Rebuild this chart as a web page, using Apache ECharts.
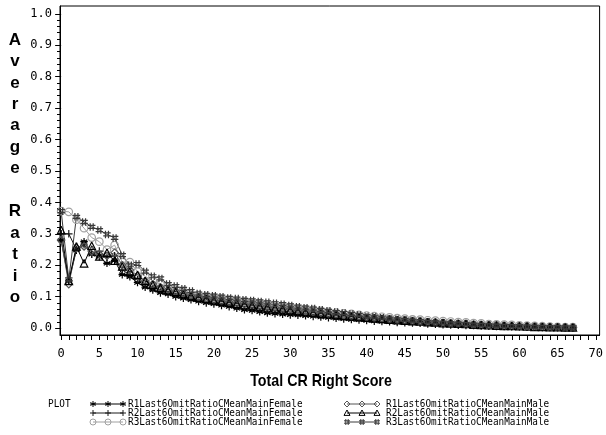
<!DOCTYPE html>
<html>
<head>
<meta charset="utf-8">
<script src="https://cdn.jsdelivr.net/npm/echarts@6/dist/echarts.min.js"></script>
<style>
  html, body { margin: 0; padding: 0; background: #fff; }
  #chart { width: 606px; height: 435px; }
</style>
</head>
<body>
<div id="chart"></div>
<script>
// Total CR Right Score (x) for every plotted point
const scores = [
  0, 1, 2, 3, 4, 5, 6, 7, 8, 9,
  10, 11, 12, 13, 14, 15, 16, 17, 18, 19,
  20, 21, 22, 23, 24, 25, 26, 27, 28, 29,
  30, 31, 32, 33, 34, 35, 36, 37, 38, 39,
  40, 41, 42, 43, 44, 45, 46, 47, 48, 49,
  50, 51, 52, 53, 54, 55, 56, 57, 58, 59,
  60, 61, 62, 63, 64, 65, 66, 67
];

const r1Female = [
  0.280, 0.150, 0.248, 0.275, 0.235, 0.227, 0.206, 0.215, 0.170, 0.163,
  0.145, 0.130, 0.121, 0.112, 0.108, 0.100, 0.095, 0.090, 0.085, 0.080,
  0.077, 0.072, 0.068, 0.063, 0.058, 0.056, 0.052, 0.048, 0.046, 0.044,
  0.042, 0.041, 0.039, 0.037, 0.035, 0.033, 0.031, 0.029, 0.027, 0.026,
  0.024, 0.022, 0.021, 0.020, 0.018, 0.017, 0.016, 0.015, 0.013, 0.012,
  0.011, 0.010, 0.009, 0.008, 0.008, 0.007, 0.006, 0.005, 0.005, 0.004,
  0.004, 0.003, 0.003, 0.002, 0.002, 0.002, 0.001, 0.001
];
const r2Female = [
  0.300, 0.300, 0.250, 0.265, 0.235, 0.245, 0.225, 0.230, 0.185, 0.170,
  0.155, 0.140, 0.130, 0.121, 0.115, 0.108, 0.102, 0.097, 0.092, 0.087,
  0.083, 0.079, 0.076, 0.072, 0.069, 0.066, 0.063, 0.060, 0.057, 0.054,
  0.052, 0.049, 0.047, 0.044, 0.042, 0.040, 0.038, 0.036, 0.034, 0.032,
  0.030, 0.028, 0.027, 0.025, 0.023, 0.022, 0.021, 0.019, 0.018, 0.017,
  0.015, 0.014, 0.013, 0.012, 0.011, 0.010, 0.009, 0.008, 0.007, 0.006,
  0.006, 0.005, 0.004, 0.004, 0.003, 0.003, 0.002, 0.002
];
const r3Female = [
  0.372, 0.370, 0.345, 0.318, 0.288, 0.275, 0.250, 0.264, 0.210, 0.210,
  0.180, 0.165, 0.150, 0.140, 0.131, 0.125, 0.118, 0.110, 0.105, 0.100,
  0.097, 0.093, 0.090, 0.087, 0.084, 0.081, 0.078, 0.075, 0.072, 0.069,
  0.066, 0.063, 0.060, 0.058, 0.055, 0.052, 0.049, 0.047, 0.045, 0.042,
  0.040, 0.038, 0.036, 0.034, 0.032, 0.030, 0.028, 0.027, 0.025, 0.024,
  0.022, 0.021, 0.019, 0.018, 0.016, 0.015, 0.013, 0.012, 0.011, 0.010,
  0.009, 0.008, 0.007, 0.006, 0.005, 0.004, 0.003, 0.003
];
const r1Male = [
  0.280, 0.140, 0.255, 0.260, 0.245, 0.235, 0.230, 0.240, 0.200, 0.185,
  0.165, 0.150, 0.140, 0.130, 0.122, 0.116, 0.110, 0.104, 0.098, 0.094,
  0.090, 0.086, 0.083, 0.080, 0.077, 0.074, 0.071, 0.068, 0.065, 0.062,
  0.059, 0.056, 0.053, 0.050, 0.048, 0.045, 0.043, 0.040, 0.038, 0.036,
  0.034, 0.032, 0.030, 0.028, 0.026, 0.025, 0.023, 0.022, 0.020, 0.019,
  0.017, 0.016, 0.015, 0.014, 0.012, 0.011, 0.010, 0.009, 0.008, 0.007,
  0.006, 0.006, 0.005, 0.004, 0.004, 0.003, 0.003, 0.002
];
const r2Male = [
  0.312, 0.150, 0.260, 0.206, 0.262, 0.228, 0.240, 0.215, 0.196, 0.180,
  0.170, 0.150, 0.138, 0.128, 0.120, 0.115, 0.108, 0.102, 0.097, 0.093,
  0.088, 0.085, 0.081, 0.078, 0.075, 0.072, 0.069, 0.066, 0.063, 0.060,
  0.057, 0.054, 0.051, 0.049, 0.046, 0.044, 0.041, 0.039, 0.037, 0.035,
  0.033, 0.031, 0.029, 0.027, 0.025, 0.024, 0.022, 0.021, 0.019, 0.018,
  0.016, 0.015, 0.014, 0.013, 0.011, 0.010, 0.009, 0.008, 0.007, 0.007,
  0.006, 0.005, 0.004, 0.004, 0.003, 0.003, 0.002, 0.002
];
const r3Male = [
  0.372, 0.155, 0.354, 0.338, 0.322, 0.312, 0.298, 0.287, 0.232, 0.200,
  0.204, 0.180, 0.165, 0.158, 0.140, 0.134, 0.125, 0.118, 0.110, 0.106,
  0.103, 0.100, 0.096, 0.094, 0.090, 0.088, 0.085, 0.082, 0.079, 0.076,
  0.072, 0.068, 0.065, 0.062, 0.058, 0.055, 0.051, 0.048, 0.045, 0.042,
  0.038, 0.036, 0.033, 0.030, 0.028, 0.026, 0.024, 0.022, 0.020, 0.018,
  0.017, 0.015, 0.014, 0.013, 0.011, 0.010, 0.009, 0.008, 0.007, 0.006,
  0.006, 0.005, 0.004, 0.004, 0.003, 0.003, 0.002, 0.002
];

const xTickLabels = [0, 5, 10, 15, 20, 25, 30, 35, 40, 45, 50, 55, 60, 65, 70];
const yTickLabels = [0.0, 0.1, 0.2, 0.3, 0.4, 0.5, 0.6, 0.7, 0.8, 0.9, 1.0];

// marker outlines as stroke lists inside a 10x10 box; circle is handled apart
const STROKES = {
  star: [[[5, 0], [5, 10]], [[0.7, 2.5], [9.3, 7.5]], [[0.7, 7.5], [9.3, 2.5]], [[0, 5], [10, 5]]],
  plus: [[[5, 0], [5, 10]], [[0, 5], [10, 5]]],
  diamond: [[[5, 0], [10, 5], [5, 10], [0, 5], [5, 0]]],
  triangle: [[[5, 0], [10, 9], [0, 9], [5, 0]]],
  hash: [[[3, 0], [3, 10]], [[7, 0], [7, 10]], [[0, 3], [10, 3]], [[0, 7], [10, 7]]]
};
function symbolPath(kind) {
  if (kind === 'circle') return 'path://M5,0A5,5,0,1,1,4.99,0Z';
  return 'path://' + STROKES[kind].map(s => s.map((p, i) => (i ? 'L' : 'M') + p[0] + ',' + p[1]).join('')).join('');
}

const seriesDefs = [
  { name: 'R1Last6OmitRatioCMeanMainFemale', data: r1Female, sym: 'star', color: '#000000' },
  { name: 'R2Last6OmitRatioCMeanMainFemale', data: r2Female, sym: 'plus', color: '#1a1a1a' },
  { name: 'R3Last6OmitRatioCMeanMainFemale', data: r3Female, sym: 'circle', color: '#a0a0a0' },
  { name: 'R1Last6OmitRatioCMeanMainMale', data: r1Male, sym: 'diamond', color: '#555555' },
  { name: 'R2Last6OmitRatioCMeanMainMale', data: r2Male, sym: 'triangle', color: '#000000' },
  { name: 'R3Last6OmitRatioCMeanMainMale', data: r3Male, sym: 'hash', color: '#3a3a3a' }
];

const series = seriesDefs.map(d => ({
  name: d.name,
  type: 'line',
  data: scores.map((x, i) => [x, d.data[i]]),
  symbol: symbolPath(d.sym),
  symbolSize: 7.5,
  showSymbol: true,
  showAllSymbol: true,
  lineStyle: { color: d.color, width: 1 },
  itemStyle: { color: 'rgba(0,0,0,0)', borderColor: d.color, borderWidth: 1.2 },
  emphasis: { disabled: true },
  animation: false
}));

// legend block under the axis title
const graphics = [];
const legendFont = '11px "DejaVu Sans Mono"';
graphics.push({
  type: 'text', x: 48, y: 404, scaleX: 0.85,
  style: { text: 'PLOT', font: legendFont, fill: '#000', verticalAlign: 'middle' }
});
function legendMarker(kind, cx, cy, color) {
  const s = 6, ox = cx - s / 2, oy = cy - s / 2;
  if (kind === 'circle') {
    return [{ type: 'circle', shape: { cx: cx, cy: cy, r: s / 2 }, style: { fill: 'none', stroke: color, lineWidth: 1 } }];
  }
  return STROKES[kind].map(st => ({
    type: 'polyline',
    shape: { points: st.map(p => [ox + p[0] * s / 10, oy + p[1] * s / 10]) },
    style: { fill: 'none', stroke: color, lineWidth: 1 }
  }));
}
const legendCols = [{ sx: 93, tx: 128 }, { sx: 347, tx: 386 }];
const legendRows = [404, 413, 422];
const legendOrder = [0, 3, 1, 4, 2, 5];
legendOrder.forEach((si, k) => {
  const d = seriesDefs[si];
  const col = legendCols[k % 2];
  const y = legendRows[Math.floor(k / 2)];
  const x0 = col.sx, x1 = col.sx + 30;
  graphics.push({
    type: 'line',
    shape: { x1: x0, y1: y, x2: x1, y2: y },
    style: { stroke: d.color, lineWidth: 1 }
  });
  [x0, (x0 + x1) / 2, x1].forEach(cx => {
    legendMarker(d.sym, cx, y, d.color).forEach(g => graphics.push(g));
  });
  graphics.push({
    type: 'text', x: col.tx, y: y, scaleX: 0.85,
    style: { text: d.name, font: legendFont, fill: '#000', verticalAlign: 'middle' }
  });
});

// vertical axis title, one letter per line
const yTitle = 'Average Ratio';
yTitle.split('').forEach((ch, i) => {
  if (ch === ' ') return;
  graphics.push({
    type: 'text', x: 15, y: 40 + i * 21.45,
    style: { text: ch, font: 'bold 17px "Liberation Sans"', fill: '#000', align: 'center', verticalAlign: 'middle' }
  });
});

// horizontal axis title
graphics.push({
  type: 'text', x: 321, y: 381, scaleX: 0.84,
  style: { text: 'Total CR Right Score', font: 'bold 17px "Liberation Sans"', fill: '#000', align: 'center', verticalAlign: 'middle' }
});

const xMinor = scores.concat([68, 69, 70]);
const yMinor = [];
for (let i = 0; i <= 50; i++) yMinor.push(+(i * 0.02).toFixed(2));

const tickFont = { fontFamily: 'DejaVu Sans Mono', fontSize: 12, color: '#000' };

const option = {
  backgroundColor: '#fff',
  animation: false,
  grid: {
    left: 60, right: 3, top: 6, bottom: 100,
    show: true, borderColor: '#000', borderWidth: 1, backgroundColor: 'transparent'
  },
  xAxis: {
    type: 'value', min: -0.15, max: 70.5,
    axisLine: { show: true, onZero: false, lineStyle: { color: '#000', width: 1 } },
    axisTick: { show: true, customValues: xMinor, length: 5, lineStyle: { color: '#000' } },
    axisLabel: {
      show: true, customValues: xTickLabels, margin: 13,
      formatter: v => String(Math.round(v)), ...tickFont
    },
    splitLine: { show: false }
  },
  yAxis: [
    {
      type: 'value', min: -0.022, max: 1.025,
      axisLine: { show: true, onZero: false, lineStyle: { color: '#000', width: 1 } },
      axisTick: { show: true, customValues: yMinor, length: 3, lineStyle: { color: '#000' } },
      axisLabel: {
        show: true, customValues: yTickLabels, margin: 8,
        formatter: v => v.toFixed(1), ...tickFont
      },
      splitLine: { show: false }
    },
    {
      type: 'value', min: -0.022, max: 1.025, position: 'left',
      axisLine: { show: false },
      axisTick: { show: true, customValues: yTickLabels, length: 6, lineStyle: { color: '#000' } },
      axisLabel: { show: false },
      splitLine: { show: false }
    }
  ],
  series: series,
  graphic: graphics
};

const chart = echarts.init(document.getElementById('chart'), null, { renderer: 'canvas' });
chart.setOption(option);
</script>
</body>
</html>
